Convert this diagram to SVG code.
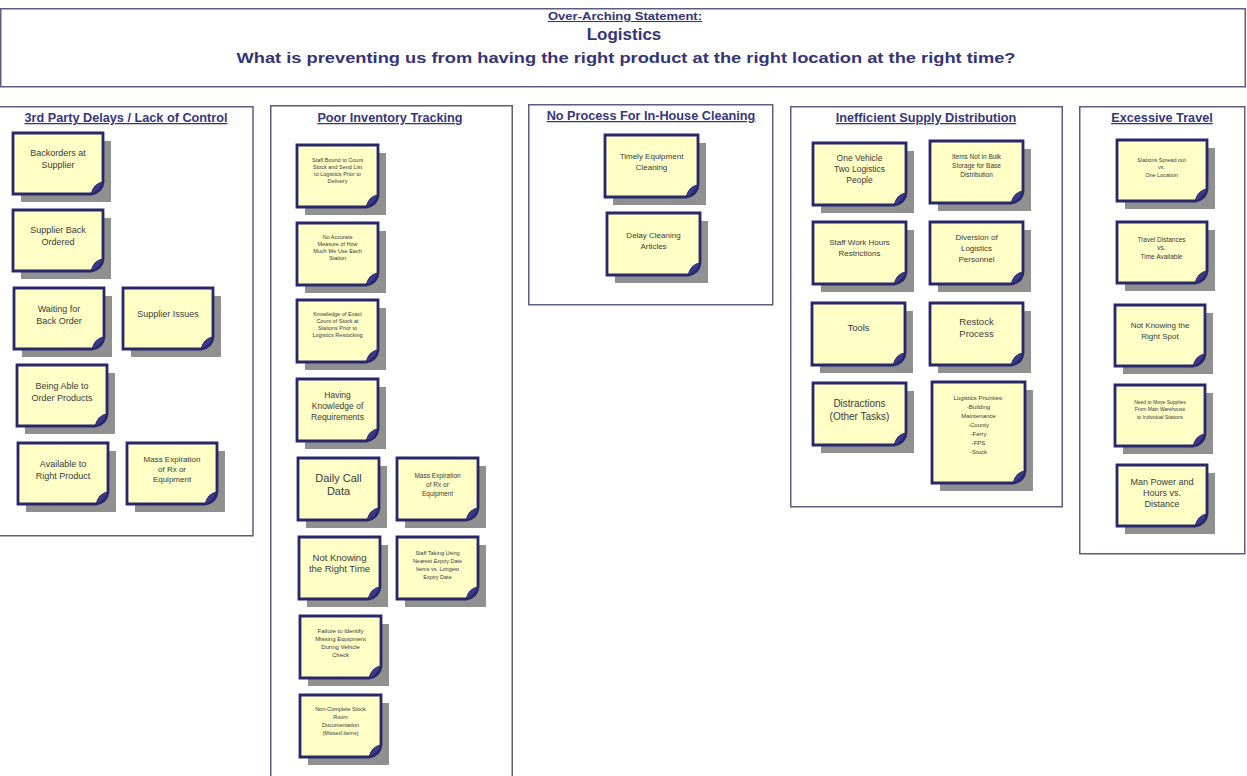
<svg xmlns="http://www.w3.org/2000/svg" xmlns:xlink="http://www.w3.org/1999/xlink" width="1247" height="776" viewBox="0 0 1247 776">
  <style>
    .frame { fill: #ffffff; stroke: #5d5d80; stroke-width: 1.5; }
    .hd { font-family: "Liberation Sans", Arial, sans-serif; font-weight: bold; fill: #343478; text-anchor: middle; }
    .ttl { font-family: "Liberation Sans", Arial, sans-serif; font-weight: bold; font-size: 12.7px; fill: #36367c; text-anchor: middle; text-decoration: underline; }
    .sh { fill: #909090; }
    .body { fill: #ffffc6; stroke: #27276a; stroke-width: 2.8; stroke-linejoin: miter; }
    .curl { fill: #3a3a8c; stroke: #27276a; stroke-width: 1; }
    .nt { font-family: "Liberation Sans", Arial, sans-serif; fill: #3a3a3a; text-anchor: middle; }
  </style>
  <defs>
    <!-- sticky-note shapes: shadow, body with turned-up corner, corner curl -->
    <g id="n90">
      <rect class="sh" x="8" y="8" width="90" height="61"/>
      <path class="body" d="M0 0H90V49Q89 59 78 61H0Z"/>
      <path class="curl" d="M90 49Q81 50 78 61Q86 59 90 49Z"/>
    </g>
    <g id="n82">
      <rect class="sh" x="8" y="8" width="81" height="62"/>
      <path class="body" d="M0 0H81V50Q80 60 69 62H0Z"/>
      <path class="curl" d="M81 50Q72 51 69 62Q77 60 81 50Z"/>
    </g>
    <g id="n93">
      <rect class="sh" x="8" y="8" width="93" height="62"/>
      <path class="body" d="M0 0H93V50Q92 60 81 62H0Z"/>
      <path class="curl" d="M93 50Q84 51 81 62Q89 60 93 50Z"/>
    </g>
    <g id="n93t">
      <rect class="sh" x="8" y="8" width="93" height="101"/>
      <path class="body" d="M0 0H93V89Q92 99 81 101H0Z"/>
      <path class="curl" d="M93 89Q84 90 81 101Q89 99 93 89Z"/>
    </g>
  </defs>

  <rect width="1247" height="776" fill="#ffffff"/>

  <!-- statement banner -->
  <g id="header">
    <rect class="frame" x="0.75" y="8.75" width="1244.5" height="78"/>
    <text class="hd" x="625" y="20" font-size="10.5" text-decoration="underline" textLength="154" lengthAdjust="spacingAndGlyphs">Over-Arching Statement:</text>
    <text class="hd" x="624" y="40" font-size="17">Logistics</text>
    <text class="hd" x="626" y="63" font-size="15.5" textLength="779" lengthAdjust="spacingAndGlyphs">What is preventing us from having the right product at the right location at the right time?</text>
  </g>

  <!-- category frames -->
  <g id="cat-3rd-party">
    <rect class="frame" x="-1" y="106.75" width="254" height="429"/>
    <text class="ttl" x="126" y="122">3rd Party Delays / Lack of Control</text>
  </g>
  <g id="cat-inventory">
    <rect class="frame" x="270.75" y="105.75" width="241.5" height="680"/>
    <text class="ttl" x="390" y="122">Poor Inventory Tracking</text>
  </g>
  <g id="cat-cleaning">
    <rect class="frame" x="528.75" y="104.75" width="244" height="200"/>
    <text class="ttl" x="651" y="120">No Process For In-House Cleaning</text>
  </g>
  <g id="cat-distribution">
    <rect class="frame" x="790.75" y="106.75" width="271.5" height="400"/>
    <text class="ttl" x="926" y="122">Inefficient Supply Distribution</text>
  </g>
  <g id="cat-travel">
    <rect class="frame" x="1079.75" y="106.75" width="165" height="447"/>
    <text class="ttl" x="1162" y="122">Excessive Travel</text>
  </g>

  <!-- 3rd Party Delays notes -->
  <g id="n-backorders" transform="translate(13,133)">
    <use xlink:href="#n90"/>
    <text class="nt" font-size="9"><tspan x="45" y="23">Backorders at</tspan><tspan x="45" y="35">Supplier</tspan></text>
  </g>
  <g id="n-supplier-back" transform="translate(13,210)">
    <use xlink:href="#n90"/>
    <text class="nt" font-size="9"><tspan x="45" y="23">Supplier Back</tspan><tspan x="45" y="35">Ordered</tspan></text>
  </g>
  <g id="n-waiting" transform="translate(14,288)">
    <use xlink:href="#n90"/>
    <text class="nt" font-size="9"><tspan x="45" y="24">Waiting for</tspan><tspan x="45" y="36">Back Order</tspan></text>
  </g>
  <g id="n-supplier-issues" transform="translate(123,288)">
    <use xlink:href="#n90"/>
    <text class="nt" font-size="9"><tspan x="45" y="29">Supplier Issues</tspan></text>
  </g>
  <g id="n-being-able" transform="translate(17,365)">
    <use xlink:href="#n90"/>
    <text class="nt" font-size="9"><tspan x="45" y="24">Being Able to</tspan><tspan x="45" y="36">Order Products</tspan></text>
  </g>
  <g id="n-available" transform="translate(18,443)">
    <use xlink:href="#n90"/>
    <text class="nt" font-size="9"><tspan x="45" y="24">Available to</tspan><tspan x="45" y="36">Right Product</tspan></text>
  </g>
  <g id="n-mass-exp-1" transform="translate(127,443)">
    <use xlink:href="#n90"/>
    <text class="nt" font-size="8"><tspan x="45" y="19">Mass Expiration</tspan><tspan x="45" y="29">of Rx or</tspan><tspan x="45" y="39">Equipment</tspan></text>
  </g>

  <!-- Poor Inventory Tracking notes -->
  <g id="n-staff-bound" transform="translate(297,145)">
    <use xlink:href="#n82"/>
    <text class="nt" font-size="5.5"><tspan x="40.5" y="17">Staff Bound to Count</tspan><tspan x="40.5" y="24">Stock and Send List</tspan><tspan x="40.5" y="31">to Logistics Prior to</tspan><tspan x="40.5" y="38">Delivery</tspan></text>
  </g>
  <g id="n-no-accurate" transform="translate(297,223)">
    <use xlink:href="#n82"/>
    <text class="nt" font-size="5.5"><tspan x="40.5" y="16">No Accurate</tspan><tspan x="40.5" y="23">Measure of How</tspan><tspan x="40.5" y="30">Much We Use Each</tspan><tspan x="40.5" y="37">Station</tspan></text>
  </g>
  <g id="n-exact-count" transform="translate(297,300)">
    <use xlink:href="#n82"/>
    <text class="nt" font-size="5.5"><tspan x="40.5" y="16">Knowledge of Exact</tspan><tspan x="40.5" y="23">Count of Stock at</tspan><tspan x="40.5" y="30">Stations Prior to</tspan><tspan x="40.5" y="37">Logistics Restocking</tspan></text>
  </g>
  <g id="n-requirements" transform="translate(297,379)">
    <use xlink:href="#n82"/>
    <text class="nt" font-size="8.5"><tspan x="40.5" y="19">Having</tspan><tspan x="40.5" y="30">Knowledge of</tspan><tspan x="40.5" y="41">Requirements</tspan></text>
  </g>
  <g id="n-daily-call" transform="translate(298,458)">
    <use xlink:href="#n82"/>
    <text class="nt" font-size="11"><tspan x="40.5" y="24">Daily Call</tspan><tspan x="40.5" y="37">Data</tspan></text>
  </g>
  <g id="n-mass-exp-2" transform="translate(397,458)">
    <use xlink:href="#n82"/>
    <text class="nt" font-size="6.5"><tspan x="40.5" y="20">Mass Expiration</tspan><tspan x="40.5" y="29">of Rx or</tspan><tspan x="40.5" y="38">Equipment</tspan></text>
  </g>
  <g id="n-right-time" transform="translate(299,537)">
    <use xlink:href="#n82"/>
    <text class="nt" font-size="9.5"><tspan x="40.5" y="24">Not Knowing</tspan><tspan x="40.5" y="35">the Right Time</tspan></text>
  </g>
  <g id="n-expiry" transform="translate(397,537)">
    <use xlink:href="#n82"/>
    <text class="nt" font-size="5.5"><tspan x="40.5" y="18">Staff Taking Using</tspan><tspan x="40.5" y="26">Nearest Expiry Date</tspan><tspan x="40.5" y="34">Items vs. Longest</tspan><tspan x="40.5" y="42">Expiry Date</tspan></text>
  </g>
  <g id="n-vehicle-check" transform="translate(300,616)">
    <use xlink:href="#n82"/>
    <text class="nt" font-size="6"><tspan x="40.5" y="17">Failure to Identify</tspan><tspan x="40.5" y="25">Missing Equipment</tspan><tspan x="40.5" y="33">During Vehicle</tspan><tspan x="40.5" y="41">Check</tspan></text>
  </g>
  <g id="n-stock-room" transform="translate(300,695)">
    <use xlink:href="#n82"/>
    <text class="nt" font-size="5.5"><tspan x="40.5" y="16">Non-Complete Stock</tspan><tspan x="40.5" y="24">Room</tspan><tspan x="40.5" y="32">Documentation</tspan><tspan x="40.5" y="40">(Missed Items)</tspan></text>
  </g>

  <!-- In-House Cleaning notes -->
  <g id="n-timely-cleaning" transform="translate(605,135)">
    <use xlink:href="#n93"/>
    <text class="nt" font-size="8"><tspan x="46.5" y="24">Timely Equipment</tspan><tspan x="46.5" y="35">Cleaning</tspan></text>
  </g>
  <g id="n-delay-cleaning" transform="translate(607,213)">
    <use xlink:href="#n93"/>
    <text class="nt" font-size="8"><tspan x="46.5" y="25">Delay Cleaning</tspan><tspan x="46.5" y="36">Articles</tspan></text>
  </g>

  <!-- Inefficient Supply Distribution notes -->
  <g id="n-one-vehicle" transform="translate(813,143)">
    <use xlink:href="#n93"/>
    <text class="nt" font-size="8.5"><tspan x="46.5" y="18">One Vehicle</tspan><tspan x="46.5" y="29">Two Logistics</tspan><tspan x="46.5" y="40">People</tspan></text>
  </g>
  <g id="n-bulk-storage" transform="translate(930,141)">
    <use xlink:href="#n93"/>
    <text class="nt" font-size="6.5"><tspan x="46.5" y="18">Items Not in Bulk</tspan><tspan x="46.5" y="27">Storage for Base</tspan><tspan x="46.5" y="36">Distribution</tspan></text>
  </g>
  <g id="n-work-hours" transform="translate(813,222)">
    <use xlink:href="#n93"/>
    <text class="nt" font-size="8"><tspan x="46.5" y="23">Staff Work Hours</tspan><tspan x="46.5" y="34">Restrictions</tspan></text>
  </g>
  <g id="n-diversion" transform="translate(930,222)">
    <use xlink:href="#n93"/>
    <text class="nt" font-size="8"><tspan x="46.5" y="18">Diversion of</tspan><tspan x="46.5" y="29">Logistics</tspan><tspan x="46.5" y="40">Personnel</tspan></text>
  </g>
  <g id="n-tools" transform="translate(812,303)">
    <use xlink:href="#n93"/>
    <text class="nt" font-size="9.5"><tspan x="46.5" y="28">Tools</tspan></text>
  </g>
  <g id="n-restock" transform="translate(930,303)">
    <use xlink:href="#n93"/>
    <text class="nt" font-size="9.5"><tspan x="46.5" y="22">Restock</tspan><tspan x="46.5" y="34">Process</tspan></text>
  </g>
  <g id="n-distractions" transform="translate(813,383)">
    <use xlink:href="#n93"/>
    <text class="nt" font-size="10"><tspan x="46.5" y="24">Distractions</tspan><tspan x="46.5" y="37">(Other Tasks)</tspan></text>
  </g>
  <g id="n-priorities" transform="translate(932,382)">
    <use xlink:href="#n93t"/>
    <text class="nt" font-size="6"><tspan x="46.5" y="18">Logistics Priorities:</tspan><tspan x="46.5" y="27">-Building</tspan><tspan x="46.5" y="36">Maintenance</tspan><tspan x="46.5" y="45">-County</tspan><tspan x="46.5" y="54">-Ferry</tspan><tspan x="46.5" y="63">-FPS</tspan><tspan x="46.5" y="72">-Stock</tspan></text>
  </g>

  <!-- Excessive Travel notes -->
  <g id="n-stations-spread" transform="translate(1117,140)">
    <use xlink:href="#n90"/>
    <text class="nt" font-size="5.5"><tspan x="44.5" y="22">Stations Spread out</tspan><tspan x="44.5" y="29">vs.</tspan><tspan x="44.5" y="37">One Location</tspan></text>
  </g>
  <g id="n-travel-distances" transform="translate(1117,222)">
    <use xlink:href="#n90"/>
    <text class="nt" font-size="6.5"><tspan x="44.5" y="20">Travel Distances</tspan><tspan x="44.5" y="28">vs.</tspan><tspan x="44.5" y="37">Time Available</tspan></text>
  </g>
  <g id="n-right-spot" transform="translate(1115,305)">
    <use xlink:href="#n90"/>
    <text class="nt" font-size="8"><tspan x="45" y="23">Not Knowing the</tspan><tspan x="45" y="34">Right Spot</tspan></text>
  </g>
  <g id="n-move-supplies" transform="translate(1115,385)">
    <use xlink:href="#n90"/>
    <text class="nt" font-size="5"><tspan x="45" y="19">Need to Move Supplies</tspan><tspan x="45" y="26">From Main Warehouse</tspan><tspan x="45" y="34">to Individual Stations</tspan></text>
  </g>
  <g id="n-man-power" transform="translate(1117,465)">
    <use xlink:href="#n90"/>
    <text class="nt" font-size="9"><tspan x="45" y="20">Man Power and</tspan><tspan x="45" y="31">Hours vs.</tspan><tspan x="45" y="42">Distance</tspan></text>
  </g>

  <!-- no connectors in this affinity chart -->
  <g id="connectors"/>
</svg>
